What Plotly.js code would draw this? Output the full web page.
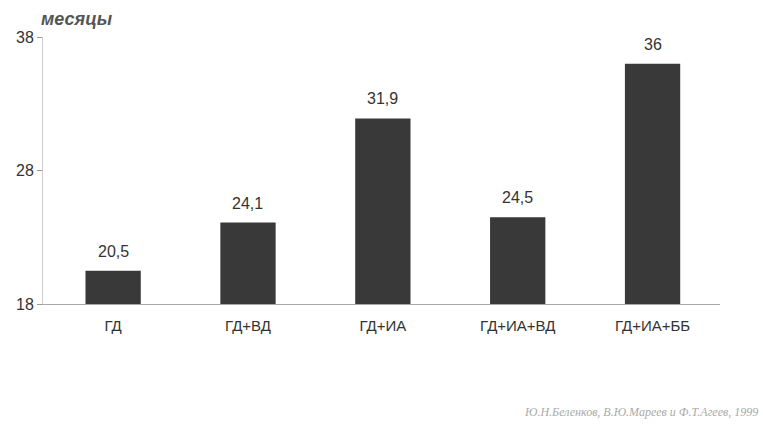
<!DOCTYPE html>
<html>
<head>
<meta charset="utf-8">
<script src="https://cdn.plot.ly/plotly-3.0.1.min.js"></script>
<style>html,body{margin:0;padding:0;background:#fff;}#chart{width:763px;height:425px;}</style>
</head>
<body>
<div id="chart"></div>
<script>
const categories = ["ГД", "ГД+ВД", "ГД+ИА", "ГД+ИА+ВД", "ГД+ИА+ББ"];
const values = [20.5, 24.1, 31.9, 24.5, 36];
const valueLabels = ["20,5", "24,1", "31,9", "24,5", "36"];
const yTicks = [18, 28, 38];
const baseValue = 18;

const trace = {
  type: "bar",
  x: categories,
  y: values.map(v => v - baseValue),
  base: baseValue,
  width: 0.41,
  marker: {color: "#393939", line: {width: 0}},
  hoverinfo: "none"
};

const valueAnnotations = categories.map((c, i) => ({
  x: c, y: values[i], xref: "x", yref: "y",
  text: valueLabels[i], showarrow: false,
  yanchor: "bottom", yshift: 9,
  font: {family: "Liberation Sans, Arial, sans-serif", size: 16, color: "#333"}
}));

const layout = {
  width: 763, height: 425,
  margin: {l: 43, r: 43, t: 37, b: 121},
  paper_bgcolor: "#fff", plot_bgcolor: "#fff",
  showlegend: false,
  font: {family: "Liberation Sans, Arial, sans-serif", color: "#333"},
  xaxis: {
    type: "category",
    range: [-0.52, 4.5],
    showline: true, linecolor: "#aaa", linewidth: 1,
    ticks: "", showgrid: false, zeroline: false,
    tickfont: {size: 15, color: "#333"},
    ticklabelstandoff: 8
  },
  yaxis: {
    range: [18, 38],
    tickvals: yTicks, ticktext: yTicks.map(String),
    showline: true, linecolor: "#ccc", linewidth: 1,
    ticks: "outside", ticklen: 5, tickcolor: "#999",
    showgrid: false, zeroline: false,
    tickfont: {size: 16, color: "#333"}
  },
  annotations: valueAnnotations.concat([
    {text: "<b><i>месяцы</i></b>", xref: "paper", yref: "paper", x: 0, y: 1, xshift: -4,
     yanchor: "bottom", xanchor: "left", yshift: 6, showarrow: false,
     font: {size: 18, color: "#555"}},
    {text: "<i>Ю.Н.Беленков, В.Ю.Мареев и Ф.Т.Агеев, 1999</i>", xref: "paper", yref: "paper",
     x: 1, y: 0, xanchor: "right", yanchor: "top", yshift: -99, xshift: 40, showarrow: false,
     font: {family: "Liberation Serif, Times New Roman, serif", size: 12, color: "#aaa"}}
  ])
};

Plotly.newPlot("chart", [trace], layout, {staticPlot: true, displayModeBar: false});
</script>
</body>
</html>
